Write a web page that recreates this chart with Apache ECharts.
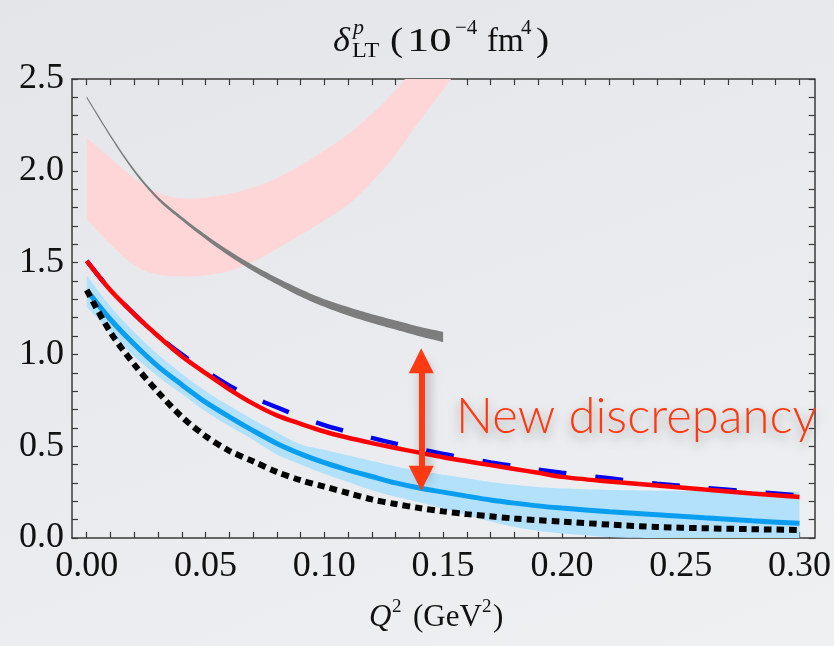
<!DOCTYPE html>
<html>
<head>
<meta charset="utf-8">
<script src="https://cdn.jsdelivr.net/npm/echarts@6/dist/echarts.min.js"></script>
<style>
  html, body { margin: 0; padding: 0; }
  body {
    width: 834px; height: 646px;
    background: linear-gradient(160deg, #e3e5e9 0%, #e8eaed 45%, #eef0f2 100%);
  }
  #chart { width: 834px; height: 646px; }
</style>
</head>
<body>
<div id="chart"></div>
<script>
  // Q^2 grid (GeV^2)
  const q2 = [0, 0.01, 0.02, 0.03, 0.04, 0.05, 0.06, 0.07, 0.08, 0.09, 0.10, 0.11, 0.12, 0.13, 0.14,
    0.15, 0.16, 0.17, 0.18, 0.19, 0.20, 0.22, 0.24, 0.26, 0.28, 0.30]

  const redLine = [1.51, 1.35, 1.22, 1.10, 0.99, 0.898, 0.81, 0.732, 0.668, 0.622, 0.58, 0.546, 0.517, 0.49, 0.465,
    0.44, 0.418, 0.397, 0.376, 0.355, 0.333, 0.308, 0.286, 0.264, 0.243, 0.223]
  const blueDashed = [1.51, 1.35, 1.22, 1.10, 1.00, 0.91, 0.83, 0.765, 0.712, 0.66, 0.615, 0.578, 0.545, 0.514, 0.485,
    0.458, 0.435, 0.412, 0.392, 0.372, 0.355, 0.325, 0.296, 0.273, 0.252, 0.232]
  const cyanLine = [1.35, 1.19, 1.055, 0.935, 0.835, 0.74, 0.66, 0.585, 0.515, 0.458, 0.41, 0.37, 0.335, 0.30, 0.272,
    0.25, 0.228, 0.207, 0.19, 0.175, 0.163, 0.143, 0.127, 0.11, 0.094, 0.08]
  const cyanUpper = [1.43, 1.26, 1.12, 1.00, 0.895, 0.80, 0.72, 0.645, 0.575, 0.51, 0.48, 0.45, 0.42, 0.39, 0.365,
    0.345, 0.325, 0.305, 0.29, 0.278, 0.27, 0.262, 0.258, 0.255, 0.253, 0.252]
  const cyanLower = [1.26, 1.12, 0.99, 0.88, 0.785, 0.69, 0.61, 0.535, 0.455, 0.40, 0.35, 0.305, 0.26, 0.225, 0.195,
    0.16, 0.125, 0.09, 0.06, 0.04, 0.025, 0.005, 0, 0, 0, 0]
  const blackDotted = [1.35, 1.12, 0.945, 0.795, 0.66, 0.555, 0.475, 0.418, 0.36, 0.315, 0.28, 0.245, 0.21, 0.185, 0.163,
    0.145, 0.13, 0.118, 0.106, 0.097, 0.089, 0.073, 0.06, 0.053, 0.048, 0.044]

  // gray band, 0 .. 0.15
  const grayQ2 = [0, 0.01, 0.02, 0.03, 0.04, 0.05, 0.06, 0.07, 0.08, 0.09, 0.10, 0.11, 0.12, 0.13, 0.14, 0.15]
  const grayUpper = [2.406, 2.197, 2.008, 1.859, 1.75, 1.652, 1.564, 1.486, 1.418, 1.355, 1.301, 1.258, 1.219, 1.185, 1.151, 1.123]
  const grayLower = [2.394, 2.183, 1.992, 1.841, 1.73, 1.628, 1.536, 1.454, 1.382, 1.315, 1.259, 1.212, 1.171, 1.135, 1.099, 1.067]

  // pink band, 0 .. 0.16 (runs off the top)
  const pinkQ2 = [0, 0.01, 0.02, 0.03, 0.04, 0.05, 0.06, 0.07, 0.08, 0.09, 0.10, 0.11, 0.12, 0.13, 0.14, 0.15, 0.16]
  const pinkUpper = [2.18, 2.07, 1.96, 1.88, 1.85, 1.855, 1.875, 1.91, 1.96, 2.03, 2.11, 2.20, 2.31, 2.44, 2.6, 2.78, 2.95]
  const pinkLower = [1.736, 1.60, 1.485, 1.435, 1.425, 1.43, 1.455, 1.505, 1.575, 1.65, 1.73, 1.815, 1.94, 2.09, 2.27, 2.44, 2.62]

  // arrow "new discrepancy"
  const arrowQ2 = 0.1408
  const arrowFrom = 0.965
  const arrowTo = 0.326

  const xTicks = [0, 0.01, 0.02, 0.03, 0.04, 0.05, 0.06, 0.07, 0.08, 0.09, 0.10, 0.11, 0.12, 0.13, 0.14, 0.15,
    0.16, 0.17, 0.18, 0.19, 0.20, 0.21, 0.22, 0.23, 0.24, 0.25, 0.26, 0.27, 0.28, 0.29, 0.30]
  const xLabels = [0, 0.05, 0.10, 0.15, 0.20, 0.25, 0.30]
  const yTicks = [0, 0.1, 0.2, 0.3, 0.4, 0.5, 0.6, 0.7, 0.8, 0.9, 1.0, 1.1, 1.2, 1.3, 1.4, 1.5,
    1.6, 1.7, 1.8, 1.9, 2.0, 2.1, 2.2, 2.3, 2.4, 2.5]
  const yLabels = [0, 0.5, 1.0, 1.5, 2.0, 2.5]

  const pairs = (xs, ys) => xs.map((x, i) => [x, ys[i]])

  const serif = 'Liberation Serif'
  const frame = '#3a3a3a'

  // catmull-rom through pixel points, just for drawing the band edges smooth
  function spline(pts) {
    const out = []
    const steps = 8
    for (let i = 0; i < pts.length - 1; i++) {
      const p0 = pts[i - 1] || pts[i], p1 = pts[i], p2 = pts[i + 1], p3 = pts[i + 2] || pts[i + 1]
      for (let s = 0; s < steps; s++) {
        const t = s / steps, t2 = t * t, t3 = t2 * t
        out.push([0, 1].map(k => 0.5 * (2 * p1[k] + (-p0[k] + p2[k]) * t +
          (2 * p0[k] - 5 * p1[k] + 4 * p2[k] - p3[k]) * t2 + (-p0[k] + 3 * p1[k] - 3 * p2[k] + p3[k]) * t3)))
      }
    }
    out.push(pts[pts.length - 1])
    return out
  }

  function band(name, xs, lo, hi, color) {
    return {
      name: name, type: 'custom', data: [[xs[0], lo[0]]], silent: true,
      renderItem: (params, api) => {
        const top = spline(xs.map((x, i) => api.coord([x, hi[i]])))
        const bot = spline(xs.map((x, i) => api.coord([x, lo[i]]))).reverse()
        const cs = params.coordSys
        return {
          type: 'polygon',
          shape: { points: top.concat(bot) },
          style: { fill: color },
          clipPath: { type: 'rect', shape: { x: cs.x, y: cs.y, width: cs.width, height: cs.height } }
        }
      }
    }
  }

  function makeXAxis(pos, labels) {
    return {
      type: 'value', position: pos, min: -0.0062, max: 0.3064,
      axisLine: { show: true, onZero: false, lineStyle: { color: frame, width: 1.5 } },
      axisTick: { show: true, inside: true, length: 6, customValues: xTicks, lineStyle: { color: frame, width: 1.2 } },
      axisLabel: {
        show: labels, customValues: xLabels, formatter: v => v.toFixed(2), margin: 11,
        fontFamily: serif, fontSize: 36, color: '#111'
      },
      splitLine: { show: false }
    }
  }
  function makeYAxis(pos, labels) {
    return {
      type: 'value', position: pos, min: 0, max: 2.5,
      axisLine: { show: true, onZero: false, lineStyle: { color: frame, width: 1.5 } },
      axisTick: { show: true, inside: true, length: 6, customValues: yTicks, lineStyle: { color: frame, width: 1.2 } },
      axisLabel: {
        show: labels, customValues: yLabels, formatter: v => v.toFixed(1), margin: 8,
        fontFamily: serif, fontSize: 36, color: '#111'
      },
      splitLine: { show: false }
    }
  }

  function txt(text, x, y, font, sx) {
    return { type: 'text', x: x, y: y, scaleX: sx || 1, style: { text: text, font: font, fill: '#111', verticalAlign: 'middle' } }
  }

  const chart = echarts.init(document.getElementById('chart'))
  const option = {
    animation: false,
    grid: { left: 72, right: 18, top: 79, bottom: 108, containLabel: false },
    xAxis: [makeXAxis('bottom', true), makeXAxis('top', false)],
    yAxis: [makeYAxis('left', true), makeYAxis('right', false)],
    graphic: [
      // title: delta^p_LT (10^-4 fm^4)
      txt('δ', 333, 42, 'italic 33px "Liberation Serif"', 1.1),
      txt('p', 353, 28, 'italic 22px "Liberation Serif"'),
      txt('LT', 352, 51, '22px "Liberation Serif"', 1.1),
      txt('(', 390, 42, '33px "Liberation Serif"', 1.2),
      txt('10', 407, 42, '33px "Liberation Serif"', 1.35),
      txt('−4', 455, 28, '21px "Liberation Serif"'),
      txt('fm', 487, 42, '33px "Liberation Serif"'),
      txt('4', 521, 28, '21px "Liberation Serif"'),
      txt(')', 536, 42, '33px "Liberation Serif"', 1.2),
      // x axis title: Q^2 (GeV^2)
      txt('Q', 369, 618, 'italic 31px "Liberation Serif"'),
      txt('2', 392, 607, '19px "Liberation Serif"'),
      txt('(GeV', 413, 618, '31px "Liberation Serif"'),
      txt('2', 482, 607, '19px "Liberation Serif"'),
      txt(')', 493, 618, '31px "Liberation Serif"'),
      // annotation
      {
        type: 'text', x: 456, y: 417, z: 100,
        style: {
          text: 'New discrepancy', font: '300 49px Lato', fill: '#ff3a12', verticalAlign: 'middle',
          textShadowColor: 'rgba(0,0,0,0.35)', textShadowBlur: 12, textShadowOffsetY: 5
        }
      }
    ],
    series: [
      band('pink', pinkQ2, pinkLower, pinkUpper, '#ffd6d8'),
      band('cyanBand', q2, cyanLower, cyanUpper, '#b3e0fa'),
      {
        name: 'cyan', type: 'line', smooth: 0.3, symbol: 'none',
        lineStyle: { color: '#0a9ef0', width: 5 }, data: pairs(q2, cyanLine)
      },
      {
        name: 'black', type: 'line', smooth: 0.3, symbol: 'none',
        lineStyle: { color: '#000', width: 6, type: [7.5, 5], cap: 'butt' }, data: pairs(q2, blackDotted)
      },
      {
        name: 'blue', type: 'line', smooth: 0.3, symbol: 'none',
        lineStyle: { color: '#0000f0', width: 4.5, type: [28, 29], cap: 'butt' }, data: pairs(q2, blueDashed)
      },
      {
        name: 'red', type: 'line', smooth: 0.3, symbol: 'none',
        lineStyle: { color: '#ff0000', width: 4.5 }, data: pairs(q2, redLine)
      },
      band('gray', grayQ2, grayLower, grayUpper, '#7d7d7d'),
      {
        name: 'arrow', type: 'line', symbol: 'none', data: [],
        markLine: {
          silent: true, symbol: ['triangle', 'triangle'], symbolSize: [25, 25],
          label: { show: false },
          lineStyle: {
            color: '#ff3a12', width: 6, type: 'solid',
            shadowColor: 'rgba(0,0,0,0.35)', shadowBlur: 12, shadowOffsetX: 3, shadowOffsetY: 3
          },
          itemStyle: { color: '#ff3a12' },
          data: [[{ coord: [arrowQ2, arrowFrom] }, { coord: [arrowQ2, arrowTo] }]]
        }
      }
    ]
  }
  chart.setOption(option)
</script>
</body>
</html>
